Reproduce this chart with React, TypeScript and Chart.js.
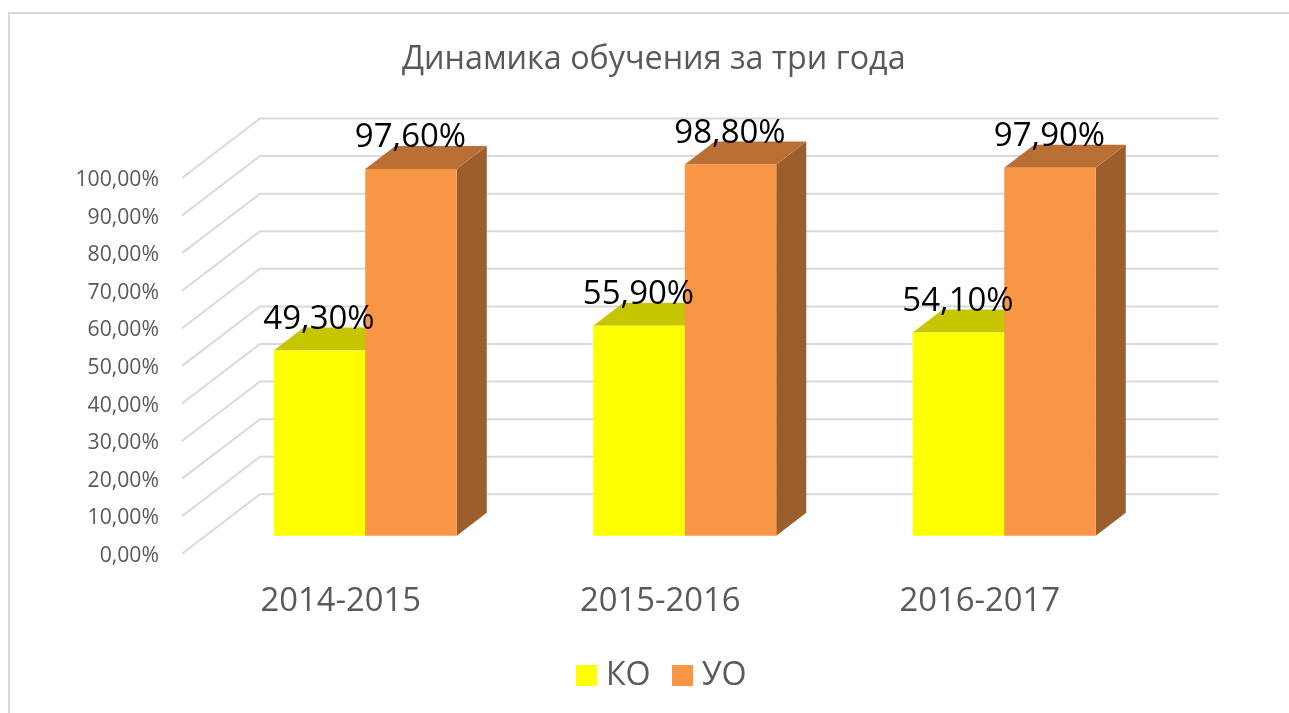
import React, { useEffect, useRef } from "react";
import { Chart, registerables } from "chart.js";

Chart.register(...registerables);

const categories = ["2014-2015", "2015-2016", "2016-2017"];
const koValues = [49.3, 55.9, 54.1];
const uoValues = [97.6, 98.8, 97.9];
const seriesNames = ["КО", "УО"];
const titleText = "Динамика обучения за три года";

const FONT = "'Open Sans', sans-serif";
const GREY = "#595959";
const GRID = "#d9d9d9";
const faces = [
  { front: "#FFFF00", top: "#C6C600", side: "#9C9C00" },
  { front: "#F99646", top: "#BA7034", side: "#9C5E2C" },
];
// Depth of the fake-3D scene, in pixels
const WALL = { dx: 78, dy: 59.5 };
const BAR_SHIFT = { dx: 23.5, dy: 18 };
const BAR_DEPTH = { dx: 30, dy: 23 };

const fmt = (v: number) => v.toFixed(2).replace(".", ",") + "%";

function swatch(color: string) {
  const c = document.createElement("canvas");
  c.width = 21;
  c.height = 21;
  const g = c.getContext("2d")!;
  g.fillStyle = color;
  g.fillRect(0, 0, 21, 21);
  return c;
}

const scene3d = {
  id: "scene3d",
  afterLayout(chart: any) {
    chart.titleBlock.left += 83.5;
    chart.titleBlock.right += 83.5;
    chart.legend.left += 95;
    chart.legend.right += 95;
  },
  beforeDraw(chart: any) {
    const { ctx, width, height } = chart;
    ctx.save();
    ctx.fillStyle = "#ffffff";
    ctx.fillRect(0, 0, width, height);
    ctx.strokeStyle = GRID;
    ctx.lineWidth = 2;
    ctx.beginPath();
    ctx.moveTo(9, height);
    ctx.lineTo(9, 13);
    ctx.lineTo(width, 13);
    ctx.stroke();
    ctx.restore();
  },
  beforeDatasetsDraw(chart: any) {
    const { ctx, chartArea, scales } = chart;
    ctx.save();
    ctx.strokeStyle = GRID;
    ctx.lineWidth = 2;
    scales.y.ticks.forEach((t: any) => {
      const y = scales.y.getPixelForValue(t.value);
      ctx.beginPath();
      ctx.moveTo(chartArea.left, y);
      ctx.lineTo(chartArea.left + WALL.dx, y - WALL.dy);
      ctx.lineTo(chartArea.right + WALL.dx, y - WALL.dy);
      ctx.stroke();
    });
    ctx.restore();

    ctx.save();
    ctx.translate(BAR_SHIFT.dx, -BAR_SHIFT.dy);
    chart.data.datasets.forEach((_: any, di: number) => {
      chart.getDatasetMeta(di).data.forEach((bar: any) => {
        const l = bar.x - bar.width / 2;
        const r = bar.x + bar.width / 2;
        ctx.fillStyle = faces[di].side;
        ctx.beginPath();
        ctx.moveTo(r, bar.y);
        ctx.lineTo(r + BAR_DEPTH.dx, bar.y - BAR_DEPTH.dy);
        ctx.lineTo(r + BAR_DEPTH.dx, bar.base - BAR_DEPTH.dy);
        ctx.lineTo(r, bar.base);
        ctx.closePath();
        ctx.fill();
        ctx.fillStyle = faces[di].top;
        ctx.beginPath();
        ctx.moveTo(l, bar.y);
        ctx.lineTo(l + BAR_DEPTH.dx, bar.y - BAR_DEPTH.dy);
        ctx.lineTo(r + BAR_DEPTH.dx, bar.y - BAR_DEPTH.dy);
        ctx.lineTo(r, bar.y);
        ctx.closePath();
        ctx.fill();
      });
    });
  },
  afterDatasetsDraw(chart: any) {
    const { ctx } = chart;
    ctx.restore();
    ctx.save();
    ctx.fillStyle = "#000000";
    ctx.font = `33px ${FONT}`;
    ctx.textAlign = "center";
    ctx.textBaseline = "middle";
    chart.data.datasets.forEach((ds: any, di: number) => {
      chart.getDatasetMeta(di).data.forEach((bar: any, i: number) => {
        ctx.fillText(
          fmt(ds.data[i]),
          bar.x + BAR_SHIFT.dx - 0.5,
          bar.y - BAR_SHIFT.dy - 31,
        );
      });
    });
    ctx.restore();
  },
};

export default function App() {
  const ref = useRef<HTMLCanvasElement>(null);
  useEffect(() => {
    const marks = faces.map((f) => swatch(f.front));
    const chart = new Chart(ref.current!, {
      type: "bar",
      data: {
        labels: categories,
        datasets: [
          { label: seriesNames[0], data: koValues, backgroundColor: faces[0].front },
          { label: seriesNames[1], data: uoValues, backgroundColor: faces[1].front },
        ],
      },
      options: {
        responsive: false,
        animation: false,
        layout: { padding: { left: 0, right: 148.5, top: 0, bottom: 11.25 } },
        datasets: {
          bar: {
            categoryPercentage: 0.5728,
            barPercentage: 1,
            borderWidth: 0,
            clip: false,
          },
        },
        scales: {
          x: {
            grid: { display: false, drawTicks: false },
            border: { display: false },
            ticks: {
              color: GREY,
              font: { family: FONT, size: 32.8 },
              padding: 28.5,
              labelOffset: -1,
              maxRotation: 0,
            },
            afterFit(s: any) {
              s.height = 76.75;
            },
          },
          y: {
            min: 0,
            max: 100,
            grid: { display: false, drawTicks: false },
            border: { display: false },
            ticks: {
              stepSize: 10,
              color: GREY,
              font: { family: FONT, size: 21.2 },
              padding: 23,
              labelOffset: 2,
              callback: (v: any) => fmt(Number(v)),
            },
            afterFit(s: any) {
              s.width = 182;
            },
          },
        },
        plugins: {
          tooltip: { enabled: false },
          title: {
            display: true,
            text: titleText,
            color: GREY,
            font: { family: FONT, size: 32.3, weight: "normal" },
            padding: { top: 40.8, bottom: 98.4 },
          },
          legend: {
            position: "bottom",
            labels: {
              color: GREY,
              font: { family: FONT, size: 32.2 },
              usePointStyle: true,
              boxWidth: 6,
              boxHeight: 21,
              padding: 29,
              generateLabels: (c: any) =>
                c.data.datasets.map((ds: any, i: number) => ({
                  text: ds.label,
                  fillStyle: ds.backgroundColor,
                  strokeStyle: ds.backgroundColor,
                  lineWidth: 0,
                  pointStyle: marks[i],
                  fontColor: GREY,
                  datasetIndex: i,
                })),
            },
          },
        },
      } as any,
      plugins: [scene3d],
    });
    return () => chart.destroy();
  }, []);
  return (
    <div style={{ position: "absolute", left: 0, top: 0 }}>
      <canvas ref={ref} width={1289} height={713} style={{ display: "block" }} />
    </div>
  );
}
